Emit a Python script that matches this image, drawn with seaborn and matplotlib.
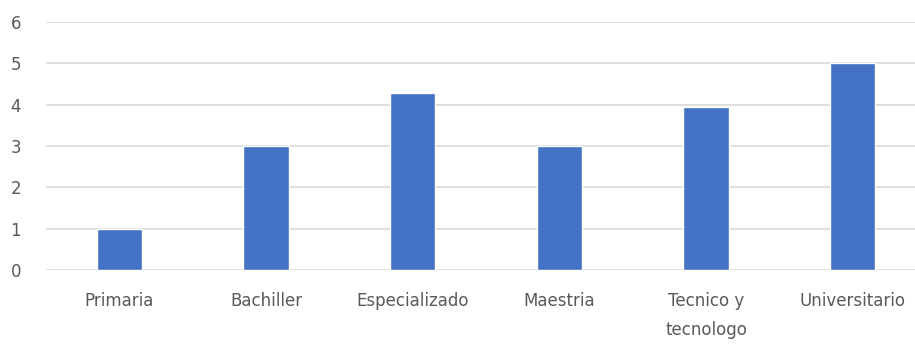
import matplotlib
matplotlib.use("Agg")
import matplotlib.pyplot as plt
import seaborn as sns
import pandas as pd

categories = ["Primaria", "Bachiller", "Especializado", "Maestria", "Tecnico y\ntecnologo", "Universitario"]
values = [1, 3, 4.28, 3, 3.94, 5]
yticks = [0, 1, 2, 3, 4, 5, 6]

sns.set_theme(style="white")
plt.rcParams['font.family'] = ['DejaVu Sans']

df = pd.DataFrame({"cat": categories, "val": values})
fig = plt.figure(figsize=(9.15, 3.49), dpi=100)
ax = fig.add_axes([46/915, 79/349, 880/915, 248/349])
sns.barplot(data=df, x="cat", y="val", color="#4472C4", width=0.31, saturation=1, ax=ax, zorder=3)
ax.set_ylim(0, 6)
ax.set_yticks(yticks)
ax.yaxis.grid(True, color="#d9d9d9", linewidth=1.2, zorder=0)
ax.set_axisbelow(True)
for s in ax.spines.values():
    s.set_visible(False)
ax.set_xlabel("")
ax.set_ylabel("")
ax.tick_params(axis="both", length=0, colors="#595959", labelsize=12)
ax.tick_params(axis="y", pad=18)
ax.tick_params(axis="x", pad=16)
for lbl in ax.get_xticklabels():
    lbl.set_linespacing(1.75)
fig.savefig("out.png", dpi=100)
